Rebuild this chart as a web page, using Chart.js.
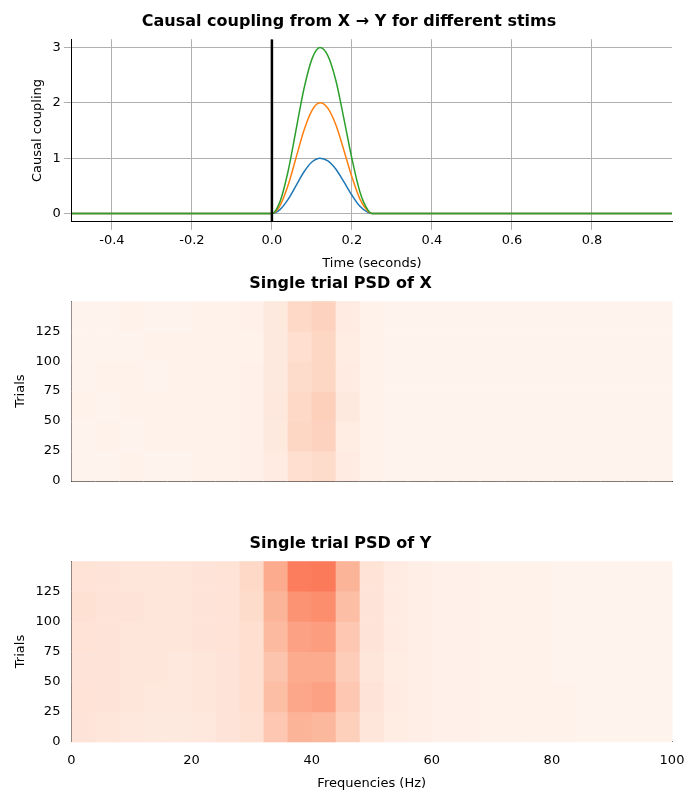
<!DOCTYPE html>
<html><head><meta charset="utf-8">
<script src="https://cdn.jsdelivr.net/npm/chart.js@4"></script>
<style>
body{margin:0;background:#fff;font-family:"DejaVu Sans";}
.box{position:absolute;left:0;width:700px;}
</style></head><body>
<div class="box" style="top:0;height:275px"><canvas id="c1"></canvas></div>
<div class="box" style="top:270px;height:229px"><canvas id="c2"></canvas></div>
<div class="box" style="top:530px;height:265px"><canvas id="c3"></canvas></div>
<script>
// coupling curves (time in seconds)
const times = [-0.5, 0, 0.02, 0.04, 0.06, 0.08, 0.10, 0.12, 0.14, 0.16, 0.18, 0.20, 0.22, 0.24, 0.25, 1.0];
const stim1 = [0, 0, 0.07, 0.25, 0.5, 0.75, 0.93, 1.0, 0.95, 0.8, 0.57, 0.33, 0.13, 0.02, 0, 0];
const stim2 = [0, 0, 0.14, 0.5, 1.0, 1.5, 1.86, 2.0, 1.9, 1.6, 1.14, 0.66, 0.26, 0.04, 0, 0];
const stim3 = [0, 0, 0.21, 0.75, 1.5, 2.25, 2.79, 3.0, 2.85, 2.4, 1.71, 0.99, 0.39, 0.06, 0, 0];

// PSD heatmaps: rows = trial bands of 25 (bottom first), cols = 4 Hz bins from 0 to 100
const trialEdges = [0, 25, 50, 75, 100, 125, 150];
const freqStep = 4;
const psdX = [
 [0.01,0.01,0.02,0.01,0.01,0.02,0.02,0.03,0.06,0.13,0.14,0.06,0.02,0.01,0.01,0.01,0.01,0.01,0.01,0.01,0.01,0.01,0.01,0.01,0.01],
 [0.01,0.02,0.01,0.02,0.02,0.02,0.02,0.03,0.07,0.16,0.17,0.05,0.02,0.01,0.01,0.01,0.01,0.01,0.01,0.01,0.01,0.01,0.01,0.01,0.01],
 [0.02,0.01,0.02,0.02,0.02,0.02,0.02,0.03,0.08,0.15,0.18,0.07,0.02,0.01,0.01,0.01,0.01,0.01,0.01,0.01,0.01,0.01,0.01,0.01,0.01],
 [0.01,0.02,0.02,0.01,0.02,0.02,0.02,0.03,0.07,0.14,0.16,0.06,0.02,0.01,0.01,0.01,0.01,0.01,0.01,0.01,0.01,0.01,0.01,0.01,0.01],
 [0.01,0.01,0.01,0.02,0.02,0.02,0.02,0.02,0.07,0.13,0.16,0.05,0.02,0.01,0.01,0.01,0.01,0.01,0.01,0.01,0.01,0.01,0.01,0.01,0.01],
 [0.01,0.01,0.02,0.01,0.01,0.02,0.02,0.03,0.07,0.15,0.17,0.06,0.02,0.01,0.01,0.01,0.01,0.01,0.01,0.01,0.01,0.01,0.01,0.01,0.01]
];
const psdY = [
 [0.10,0.09,0.08,0.07,0.07,0.08,0.10,0.12,0.21,0.27,0.26,0.18,0.09,0.05,0.04,0.03,0.03,0.02,0.02,0.02,0.02,0.01,0.01,0.01,0.01],
 [0.11,0.10,0.09,0.08,0.08,0.09,0.10,0.13,0.24,0.31,0.33,0.21,0.10,0.06,0.04,0.03,0.03,0.02,0.02,0.02,0.02,0.01,0.01,0.01,0.01],
 [0.10,0.10,0.09,0.09,0.08,0.09,0.10,0.13,0.22,0.30,0.30,0.19,0.09,0.05,0.04,0.03,0.03,0.02,0.02,0.02,0.01,0.01,0.01,0.01,0.01],
 [0.11,0.10,0.09,0.09,0.09,0.10,0.11,0.13,0.25,0.33,0.34,0.21,0.10,0.06,0.04,0.03,0.03,0.02,0.02,0.02,0.01,0.01,0.01,0.01,0.01],
 [0.12,0.10,0.10,0.09,0.09,0.10,0.11,0.14,0.27,0.37,0.39,0.24,0.10,0.06,0.04,0.03,0.03,0.02,0.02,0.02,0.01,0.01,0.01,0.01,0.01],
 [0.11,0.10,0.09,0.09,0.09,0.10,0.11,0.15,0.30,0.44,0.45,0.27,0.11,0.06,0.04,0.03,0.03,0.02,0.02,0.02,0.01,0.01,0.01,0.01,0.01]
];

Chart.defaults.font.family = "DejaVu Sans";
Chart.defaults.font.size = 13;
Chart.defaults.color = "#000";

const reds = ['#fff5f0','#fee0d2','#fcbba1','#fc9272','#fb6a4a','#ef3b2c','#cb181d','#a50f15','#67000d'];
function hex(c){return [1,3,5].map(i=>parseInt(c.substr(i,2),16));}
function redsColor(v){
  v = Math.max(0, Math.min(1, v)) * (reds.length - 1);
  const i = Math.min(Math.floor(v), reds.length - 2), f = v - i;
  const a = hex(reds[i]), b = hex(reds[i+1]);
  return 'rgb(' + a.map((x,k)=>Math.round(x + (b[k]-x)*f)).join(',') + ')';
}

const toXY = ys => times.map((t,i)=>({x:t, y:ys[i]}));
const curve = (ys, color) => ({data: toXY(ys), showLine:true, borderColor:color, borderWidth:1.5,
  pointRadius:0, cubicInterpolationMode:'monotone'});
new Chart(document.getElementById('c1'), {
  type: 'scatter',
  data: { datasets: [
    {data: [{x:0,y:-0.15},{x:0,y:3.15}], showLine:true, borderColor:'#000', borderWidth:2.5, pointRadius:0},
    curve(stim3, '#2ca02c'),
    curve(stim2, '#ff7f0e'),
    curve(stim1, '#1f77b4')
  ]},
  options: {
    responsive:true, maintainAspectRatio:false, animation:false,
    layout:{padding:{left:26, right:28, top:8, bottom:0}},
    plugins:{legend:{display:false}, tooltip:{enabled:false},
      title:{display:true, text:'Causal coupling from X \u2192 Y for different stims', font:{size:16, weight:'bold'}, padding:{top:4,bottom:8}}},
    scales:{
      x:{type:'linear', min:-0.5, max:1.0, title:{display:true, text:'Time (seconds)'},
         afterBuildTicks: a => { a.ticks = [-0.4,-0.2,0,0.2,0.4,0.6,0.8].map(v=>({value:v})); },
         ticks:{callback:v=>v.toFixed(1)}, grid:{color:'#b0b0b0'}, border:{color:'#000'}},
      y:{min:-0.15, max:3.15, title:{display:true, text:'Causal coupling'},
         afterBuildTicks: a => { a.ticks = [0,1,2,3].map(v=>({value:v})); },
         grid:{color:'#b0b0b0'}, border:{color:'#000'}}
    }
  }
});

const heatPlugin = {
  id:'heat',
  beforeDatasetsDraw(chart){
    const grid = chart.options.plugins.heat.grid;
    const {ctx, scales:{x, y}} = chart;
    grid.forEach((row, r) => row.forEach((v, c) => {
      const x0 = x.getPixelForValue(c*freqStep), x1 = x.getPixelForValue((c+1)*freqStep);
      const y0 = y.getPixelForValue(trialEdges[r+1]), y1 = y.getPixelForValue(trialEdges[r]);
      ctx.fillStyle = redsColor(v);
      ctx.fillRect(x0, y0, x1-x0+0.5, y1-y0+0.5);
    }));
  }
};

function heatmap(id, grid, title, showX){
  new Chart(document.getElementById(id), {
    type:'scatter',
    data:{datasets:[{data:[]}]},
    plugins:[heatPlugin],
    options:{
      responsive:true, maintainAspectRatio:false, animation:false,
      layout:{padding:{left:9, right:28, top:0, bottom:showX?0:10}},
      plugins:{legend:{display:false}, tooltip:{enabled:false}, heat:{grid:grid},
        title:{display:true, text:title, font:{size:16, weight:'bold'}, padding:{top:4,bottom:8}}},
      scales:{
        x:{type:'linear', min:0, max:100, grid:{display:false}, border:{color:'#000'},
           title:{display:showX, text:'Frequencies (Hz)'},
           afterBuildTicks: a => { a.ticks = [0,20,40,60,80,100].map(v=>({value:v})); },
           ticks:{display:showX}},
        y:{min:0, max:150, grid:{display:false}, border:{color:'#000'},
           title:{display:true, text:'Trials'},
           afterBuildTicks: a => { a.ticks = [0,25,50,75,100,125].map(v=>({value:v})); }}
      }
    }
  });
}
heatmap('c2', psdX, 'Single trial PSD of X', false);
heatmap('c3', psdY, 'Single trial PSD of Y', true);
</script></body></html>
